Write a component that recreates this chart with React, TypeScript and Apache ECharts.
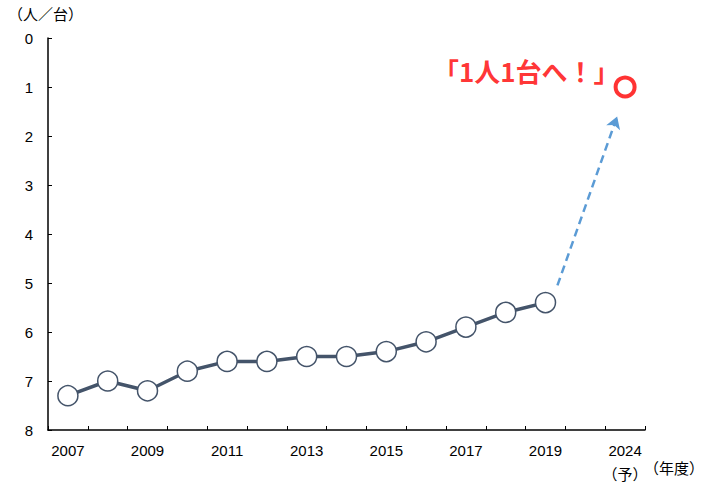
import React, { useEffect, useRef } from "react";
import * as echarts from "echarts";

const categories = ["2007", "2008", "2009", "2010", "2011", "2012", "2013", "2014", "2015", "2016", "2017", "2018", "2019", "", "2024"];
const shownLabels = ["2007", "2009", "2011", "2013", "2015", "2017", "2019", "2024"];
const values = [7.3, 7.0, 7.2, 6.8, 6.6, 6.6, 6.5, 6.5, 6.4, 6.2, 5.9, 5.6, 5.4];
const target = [14, 1.0];
const arrowFrom = [12.3, 5.05];
const arrowTo = [13.8, 1.6];
const yTicks = [0, 8, 1];

const FONT = "'Liberation Sans', 'Noto Sans CJK JP', sans-serif";

export default function App() {
  const ref = useRef<HTMLDivElement>(null);
  useEffect(() => {
    if (!ref.current) return;
    const chart = echarts.init(ref.current, null, { renderer: "svg" });
    chart.setOption({
      animation: false,
      backgroundColor: "#ffffff",
      grid: { left: 48, right: 60, top: 38, bottom: 54, containLabel: false, outerBoundsMode: "none" },
      xAxis: [
        {
          type: "category",
          data: categories,
          boundaryGap: true,
          axisLine: { onZero: false, lineStyle: { color: "#000", width: 1.5 } },
          axisTick: { show: true, inside: true, length: 4, interval: 0, lineStyle: { color: "#000" } },
          axisLabel: {
            interval: 0,
            margin: 8,
            color: "#000",
            fontSize: 15,
            fontFamily: FONT,
            lineHeight: 24,
            formatter: (v: string) => (shownLabels.includes(v) ? (v === "2024" ? "2024\n（予）" : v) : ""),
          },
          splitLine: { show: false },
        },
        {
          type: "value",
          show: false,
          min: -0.5,
          max: 14.5,
          position: "bottom",
          axisLine: { onZero: false },
        },
      ],
      yAxis: {
        type: "value",
        inverse: true,
        min: yTicks[0],
        max: yTicks[1],
        interval: yTicks[2],
        axisLine: { show: true, onZero: false, lineStyle: { color: "#000", width: 1.5 } },
        axisTick: { show: true, inside: true, length: 4, lineStyle: { color: "#000" } },
        axisLabel: { color: "#000", fontSize: 15, fontFamily: FONT, margin: 15 },
        splitLine: { show: false },
      },
      graphic: [
        {
          type: "text",
          left: 8,
          top: 6,
          style: { text: "（人／台）", fill: "#000", font: "15px 'Noto Sans CJK JP', sans-serif" },
        },
        {
          type: "text",
          right: 1,
          top: 460,
          style: { text: "（年度）", fill: "#000", font: "15px 'Noto Sans CJK JP', sans-serif" },
        },
      ],
      series: [
        {
          type: "line",
          data: values,
          xAxisIndex: 0,
          symbol: "circle",
          symbolSize: 20,
          showAllSymbol: true,
          lineStyle: { color: "#44546A", width: 3.5 },
          itemStyle: { color: "#ffffff", borderColor: "#44546A", borderWidth: 1.5 },
          z: 3,
        },
        {
          type: "scatter",
          xAxisIndex: 1,
          data: [target],
          symbol: "circle",
          symbolSize: 19,
          itemStyle: { color: "rgba(0,0,0,0)", borderColor: "#ff0000", borderWidth: 4 },
          label: {
            show: true,
            position: "left",
            distance: 0,
            offset: [6, -17],
            formatter: "「1人1台へ！」",
            color: "#ff0000",
            fontSize: 26,
            fontWeight: "bold",
            fontFamily: "'Noto Sans CJK JP', sans-serif",
          },
          markLine: {
            silent: true,
            symbol: ["none", "arrow"],
            symbolSize: [11, 12],
            label: { show: false },
            lineStyle: { color: "#5B9BD5", width: 2.5, type: [8, 5] },
            data: [[{ coord: arrowFrom }, { coord: arrowTo }]],
          },
        },
      ],
    });
    return () => chart.dispose();
  }, []);
  return <div ref={ref} style={{ width: 705, height: 484, position: "absolute", left: 0, top: 0 }} />;
}
